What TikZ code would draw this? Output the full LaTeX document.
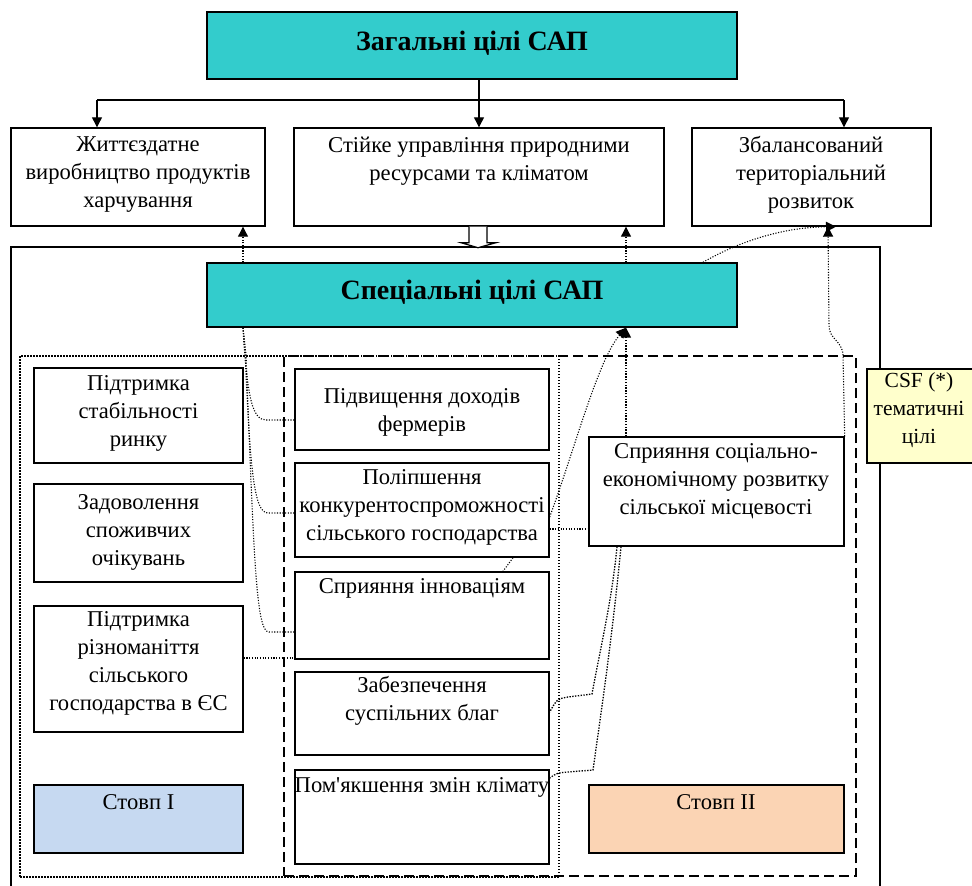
\documentclass[tikz,border=0pt]{standalone}
\usepackage{fontspec}
\setmainfont{Liberation Serif}
\usetikzlibrary{arrows.meta,fit}
\definecolor{tealbox}{HTML}{33CCCC}
\definecolor{pillarone}{HTML}{C6D9F1}
\definecolor{pillartwo}{HTML}{FBD4B4}
\definecolor{csfyellow}{HTML}{FFFFCC}
\begin{document}
\begin{tikzpicture}[x=1pt,y=-1pt,
  box/.style={draw, line width=1.4pt, inner sep=0pt, fill=white},
  lbl/.style={inner sep=0pt, align=center, font=\fontsize{22.6}{28}\selectfont},
  ttl/.style={inner sep=0pt, align=center, font=\fontsize{28}{32}\selectfont\bfseries},
  conn/.style={line width=1.1pt, dash pattern=on 1.1pt off 1.6pt},
  heavy/.style={line width=1.6pt, dash pattern=on 1.4pt off 1.4pt},
  tip/.style={-{Triangle[length=10pt,width=10pt]}},
  solidline/.style={line width=1.2pt},
]
\useasboundingbox (0,0) rectangle (972,886);

% outer frame and pillar regions
\node[draw, line width=1.2pt, inner sep=0pt, fit={(11,247)(880,900)}] (outer) {};
\node[draw, inner sep=0pt, line width=1.7pt, dash pattern=on 1.5pt off 1.5pt, fit={(20,356)(559,877)}] (pilone) {};
\node[draw, inner sep=0pt, line width=2.2pt, dash pattern=on 10pt off 5pt, fit={(284,356)(856,876)}] (piltwo) {};

% boxes
\node[box, fill=tealbox, fit={(207,12)(737,79)}] (top) {};
\node[box, fit={(11,128)(265,226)}] (g1) {};
\node[box, fit={(294,128)(664,226)}] (g2) {};
\node[box, fit={(692,128)(931,226)}] (g3) {};
\node[box, fill=tealbox, fit={(207,263)(737,327)}] (sp) {};
\node[box, fit={(34,368)(243,463)}] (l1) {};
\node[box, fit={(34,484)(243,582)}] (l2) {};
\node[box, fit={(34,606)(243,732)}] (l3) {};
\node[box, fill=pillarone, fit={(34,785)(243,853)}] (p1) {};
\node[box, fit={(295,369)(549,450)}] (m1) {};
\node[box, fit={(295,463)(549,557)}] (m2) {};
\node[box, fit={(295,572)(549,659)}] (m3) {};
\node[box, fit={(295,672)(549,755)}] (m4) {};
\node[box, fit={(295,770)(549,864)}] (m5) {};
\node[box, fit={(589,437)(844,546)}] (r1) {};
\node[box, fill=pillartwo, fit={(589,785)(844,853)}] (p2) {};
\node[box, fill=csfyellow, fit={(867,369)(990,463)}] (csf) {};

% texts
\node[ttl] (ttop) at (472,43) {Загальні цілі САП};
\node[ttl] (tsp) at (472,292) {Спеціальні цілі САП};
\node[lbl] (tg1) at (138,175) {Життєздатне\\виробництво продуктів\\харчування};
\node[lbl] (tg2) at (479,161) {Стійке управління природними\\ресурсами та кліматом};
\node[lbl] (tg3) at (811,175) {Збалансований\\територіальний\\розвиток};
\node[lbl] (tl1) at (138.5,413) {Підтримка\\стабільності\\ринку};
\node[lbl] (tl2) at (138.5,532) {Задоволення\\споживчих\\очікувань};
\node[lbl] (tl3) at (138.5,663) {Підтримка\\різноманіття\\сільського\\господарства в ЄС};
\node[lbl] (tp1) at (138.5,802) {Стовп I};
\node[lbl] (tm1) at (422,412) {Підвищення доходів\\фермерів};
\node[lbl] (tm2) at (422,507) {Поліпшення\\конкурентоспроможності\\сільського господарства};
\node[lbl] (tm3) at (422,588) {Сприяння інноваціям};
\node[lbl] (tm4) at (422,701) {Забезпечення\\суспільних благ};
\node[lbl] (tm5) at (422,787) {Пом\textquotesingle якшення змін клімату};
\node[lbl] (tr1) at (716,481) {Сприяння соціально-\\економічному розвитку\\сільської місцевості};
\node[lbl] (tp2) at (716,802) {Стовп II};
\node[lbl, font=\fontsize{21.5}{28}\selectfont] (tcsf) at (919,410) {CSF (*)\\тематичні\\цілі};

% column coordinates
\coordinate (hub) at (479,100);
\coordinate (hl) at (97,100);
\coordinate (hr) at (844,100);
\coordinate (cxa) at (243,0);
\coordinate (cxb) at (626,0);
\coordinate (cxc) at (703,0);
\coordinate (cxd) at (828,0);
\coordinate (cxe) at (836,0);
\coordinate (cxf) at (513,0);
\coordinate (cxg) at (503,0);
\coordinate (cxh) at (617,0);
\coordinate (cxi) at (621,0);
\coordinate (cxj) at (478,0);

% top connectors
\draw[solidline] (hub |- top.south) -- (hub);
\draw[solidline] (hl) -- (hr);
\draw[solidline, tip] (hl) -- (hl |- g1.north);
\draw[solidline, tip] (hub) -- (hub |- g2.north);
\draw[solidline, tip] (hr) -- (hr |- g3.north);

% hollow arrow from g2 to the frame
\coordinate (ha) at (cxj |- g2.south);
\draw[line width=1.2pt, fill=white] ([xshift=-9pt]ha) -- ++(0,16) -- ++(-8,0) -- ++(17,5) -- ++(18,-5) -- ++(-9,0) -- ++(0,-16);

% special goals -> general goals
\draw[conn, tip] (sp.north -| cxa) -- (g1.south -| cxa);
\draw[conn, tip] (sp.north -| cxb) -- (g2.south -| cxb);
\draw[conn, tip] (sp.north -| cxc) .. controls (745,238) and (790,227) .. (g3.south -| cxe);
\draw[conn, tip] (r1.north east) -- (843,355) .. controls (842,340) and (829,340) .. (829,325) -- (g3.south -| cxd);

% special goals -> priorities (left side fan)
\coordinate (ea) at ([yshift=-10.5pt]m1.west);
\coordinate (eb) at ([yshift=-3pt]m2.west);
\coordinate (ec) at ([yshift=-16.5pt]m3.west);
\draw[conn] (sp.south -| cxa) -- (244,345) .. controls (248,395) and (252,420) .. (266,420) -- (ea);
\draw[conn] (sp.south -| cxa) -- (245,350) .. controls (250,470) and (254,513) .. (268,513) -- (eb);
\draw[conn] (sp.south -| cxa) -- (246,355) .. controls (254,560) and (256,632) .. (269,632) -- (ec);

% Підтримка різноманіття -> Сприяння інноваціям
\coordinate (ed) at ([yshift=11pt]l3.east);
\draw[conn] (ed) -- (ed -| m3.west);

% rural development -> special goals
\draw[heavy, tip] (r1.north -| cxb) -- (sp.south -| cxb);
\coordinate (ee) at ([yshift=-7pt]m2.east);
\draw[conn, tip] (ee) .. controls (576,445) and (598,360) .. (sp.south -| cxb);

% Поліпшення -> rural development
\coordinate (ef) at ([yshift=-19pt]m2.east);
\draw[conn] (ef) -- (ef -| r1.west);

% Поліпшення -> Сприяння інноваціям
\draw[conn] (m2.south -| cxf) -- (m3.north -| cxg);

% rural development -> public goods / climate
\coordinate (eg) at ([yshift=1.5pt]m4.east);
\coordinate (eh) at ([yshift=39pt]m5.east);
\draw[heavy, line width=1.3pt] (r1.south -| cxh) .. controls (612,600) and (600,650) .. (592,694) -- (568,697) .. controls (557,699) .. (eg);
\draw[heavy, line width=1.3pt] (r1.south -| cxi) .. controls (612,640) and (600,720) .. (593,770) -- (568,772) .. controls (557,773) .. (eh);

\end{tikzpicture}
\end{document}
